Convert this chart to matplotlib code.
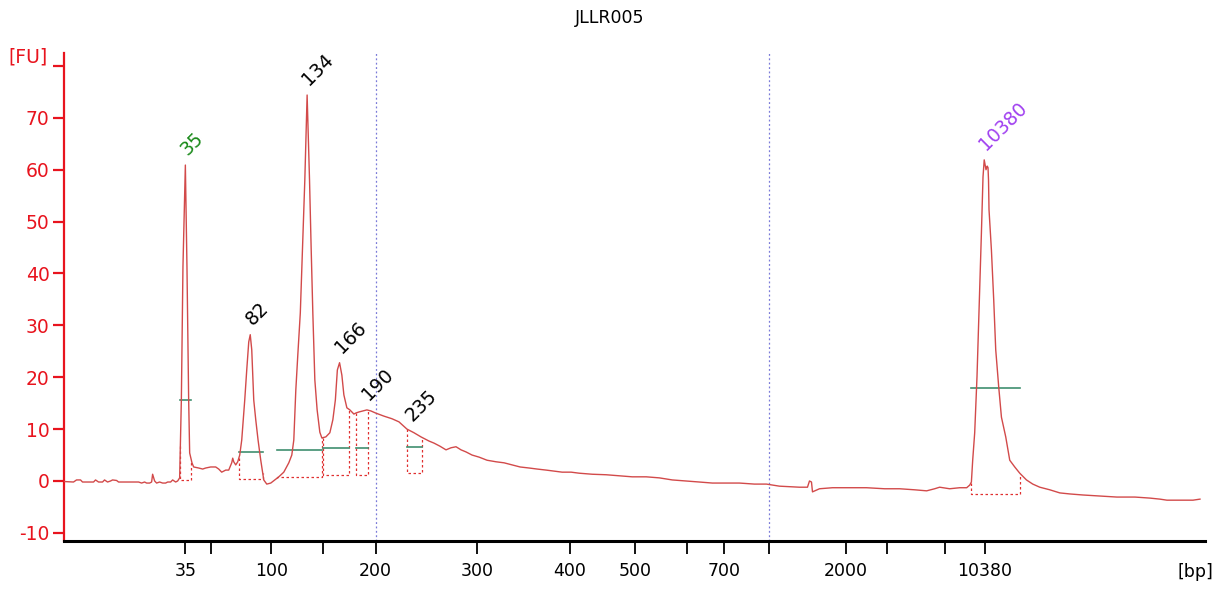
import numpy as np
import matplotlib
matplotlib.use('Agg')
import matplotlib.pyplot as plt

plt.rcParams['font.family'] = ['DejaVu Sans']

sample = "JLLR005"

# ladder: migration time (s) of each ladder fragment (bp)
ladder_bp = [35, 50, 100, 150, 200, 300, 400, 500, 600, 700, 1000, 2000, 3000, 7000, 10380]
ladder_time = [53.67, 56.2, 62.27, 67.4, 72.67, 82.8, 92.07, 98.6, 103.8, 107.5, 112.0, 119.6, 123.7, 129.5, 133.5]
labelled_bp = [35, 100, 200, 300, 400, 500, 700, 2000, 10380]
smear_bp = [200, 1000]

# electropherogram trace
time_s = [41.5, 42.5, 42.8, 43.2, 43.4, 44.5, 44.7, 45.0, 45.4, 45.6, 45.9, 46.2, 46.4, 46.8, 47.0,
          49.0, 49.3, 49.6, 49.8, 50.1, 50.3, 50.4, 50.6, 50.8, 51.1, 51.4, 51.7, 51.9, 52.2, 52.4,
          52.7, 52.9, 53.1, 53.27, 53.43, 53.67, 53.83, 54.0, 54.1, 54.33, 54.5, 55.0, 55.4, 55.7,
          56.2, 56.7, 57.0, 57.3, 57.7, 58.0, 58.3, 58.4, 58.5, 58.7, 58.9, 59.1, 59.3, 59.6, 59.8,
          60.0, 60.15, 60.3, 60.5, 60.7, 60.93, 61.2, 61.5, 61.8, 62.2, 62.6, 63.0, 63.5, 64.0,
          64.3, 64.5, 64.7, 64.9, 65.15, 65.33, 65.6, 65.83, 66.07, 66.23, 66.4, 66.6, 66.83, 67.1,
          67.3, 67.7, 68.1, 68.4, 68.65, 68.85, 69.07, 69.3, 69.5, 69.8, 70.1, 70.5, 70.7, 71.0,
          71.4, 71.8, 72.2, 72.67, 73.5, 74.3, 75.0, 75.8, 76.2, 76.5, 77.2, 78.0, 78.5, 79.1, 79.7,
          80.2, 80.7, 81.2, 81.7, 82.3, 83.0, 83.8, 84.7, 85.5, 86.3, 87.1, 88.0, 88.8, 89.7, 90.5,
          91.3, 92.2, 93.0, 94.3, 95.7, 97.0, 98.3, 99.7, 101.0, 102.3, 103.7, 105.0, 106.3, 107.6,
          109.0, 110.5, 111.7, 113.0, 115.0, 115.8, 116.0, 116.2, 116.3, 117.0, 118.3, 120.0, 121.7,
          123.5, 125.0, 126.5, 127.7, 128.5, 129.0, 130.0, 131.0, 131.7, 132.0, 132.17, 132.3, 132.5,
          132.73, 132.93, 133.17, 133.33, 133.45, 133.63, 133.75, 133.83, 133.88, 133.93, 134.17,
          134.4, 134.6, 134.9, 135.17, 135.6, 136.0, 136.5, 137.0, 137.67, 138.3, 139.0, 140.0,
          141.0, 142.0, 143.3, 145.0, 146.7, 148.5, 150.0, 151.0, 151.7, 153.0, 154.3, 155.0]
signal_fu = [-0.1, -0.2, 0.2, 0.2, -0.2, -0.2, 0.2, -0.2, -0.2, 0.2, -0.2, 0.0, 0.2, 0.1, -0.2,
             -0.2, -0.4, -0.2, -0.4, -0.4, -0.2, 1.3, 0.0, -0.4, -0.2, -0.4, -0.4, -0.2, -0.2, 0.2,
             -0.2, 0.0, 0.6, 15.6, 41.3, 60.9, 41.3, 15.6, 5.4, 3.5, 2.7, 2.5, 2.3, 2.5,
             2.7, 2.7, 2.3, 1.7, 2.1, 2.1, 3.5, 4.4, 3.7, 3.1, 3.7, 5.0, 7.9, 15.6, 21.4,
             26.8, 28.2, 25.3, 15.6, 11.8, 7.9, 4.0, 0.2, -0.6, -0.4, 0.2, 0.8, 1.7, 3.5,
             5.0, 7.9, 17.5, 24.3, 32.4, 42.6, 58.0, 74.4, 58.0, 45.1, 32.4, 19.5, 13.7, 9.4,
             8.3, 8.5, 9.3, 11.8, 15.6, 21.4, 22.8, 20.4, 16.6, 14.1, 13.7, 12.9, 13.1, 13.3,
             13.5, 13.7, 13.5, 13.1, 12.5, 12.0, 11.4, 10.0, 9.6, 9.3, 8.5, 7.7, 7.3, 6.7, 6.0,
             6.4, 6.6, 6.0, 5.6, 5.0, 4.6, 4.0, 3.7, 3.5, 3.1, 2.7, 2.5, 2.3, 2.1, 1.9,
             1.7, 1.7, 1.5, 1.3, 1.2, 1.0, 0.8, 0.8, 0.6, 0.2, 0.0, -0.2, -0.4, -0.4,
             -0.4, -0.6, -0.6, -1.0, -1.2, -1.2, 0.0, -0.2, -2.1, -1.5, -1.3, -1.3, -1.3,
             -1.5, -1.5, -1.7, -1.9, -1.5, -1.2, -1.5, -1.3, -1.3, -0.8, -0.2, 4.0, 9.3,
             20.1, 32.4, 47.8, 58.6, 61.9, 60.0, 60.7, 60.4, 58.0, 52.3, 44.5,
             34.9, 25.3, 18.1, 12.3, 8.5, 4.0, 2.7, 1.5, 0.2, -0.6, -1.2, -1.7,
             -2.3, -2.5, -2.7, -2.9, -3.1, -3.1, -3.3, -3.5, -3.7, -3.7, -3.7, -3.5]

# called peaks
peak_bp = [35, 82, 134, 166, 190, 235, 10380]
peak_time = [53.67, 60.15, 65.83, 69.07, 71.8, 76.2, 133.45]
peak_fu = [60.9, 28.2, 74.4, 22.8, 13.7, 9.6, 61.9]
peak_color = ['#1a8a1a', 'black', 'black', 'black', 'black', 'black', '#a040f0']

# peak integration windows
win_start = [53.17, 59.0, 62.8, 67.43, 70.67, 75.83, 132.1]
win_end = [54.27, 61.4, 67.27, 70.0, 71.87, 77.27, 137.07]
win_base = [0.1, 0.4, 0.8, 1.2, 1.2, 1.6, -2.5]
win_mark = [15.6, 5.6, 6.0, 6.4, 6.4, 6.6, 17.9]

red = '#e8141e'

fig = plt.figure(figsize=(12.16, 5.9), dpi=100)
ax = fig.add_axes([63.5 / 1216, 49 / 590, (1205 - 63.5) / 1216, (541 - 53) / 590])

t = np.array(time_s)
s = np.array(signal_fu)

for a, b, base, mark in zip(win_start, win_end, win_base, win_mark):
    ya = np.interp(a, t, s)
    yb = np.interp(b, t, s)
    ax.plot([a, a, b, b], [ya, base, base, yb], color='#e03030', lw=0.9,
            linestyle=(0, (2, 2)), zorder=2)
    ax.plot([a, b], [mark, mark], color='#3f8f6f', lw=1.2, zorder=3)

for bp in smear_bp:
    x = ladder_time[ladder_bp.index(bp)]
    ax.axvline(x, color='#7a7ad8', lw=0.9, linestyle=(0, (1.5, 2)), zorder=1)

ax.plot(t, s, color='#d24a4a', lw=1.0, zorder=4)

for bp, pt, pf, c in zip(peak_bp, peak_time, peak_fu, peak_color):
    ax.annotate(str(bp), xy=(pt, pf), xytext=(1.5, 6.5), textcoords='offset points',
                rotation=45, rotation_mode='anchor', ha='left', va='baseline',
                color=c, fontsize=13.5)

ax.set_xlim(41.5, 155.5)
ax.set_ylim(-11.57, 82.5)

ax.set_xticks(ladder_time)
ax.set_xticklabels([str(b) if b in labelled_bp else '' for b in ladder_bp])
ax.set_yticks([-10, 0, 10, 20, 30, 40, 50, 60, 70, 80])
ax.set_yticklabels(['-10', '0', '10', '20', '30', '40', '50', '60', '70', ''])

for side in ['top', 'right']:
    ax.spines[side].set_visible(False)
ax.spines['left'].set_color(red)
ax.spines['left'].set_linewidth(1.6)
ax.spines['bottom'].set_color('black')
ax.spines['bottom'].set_linewidth(2.2)

ax.tick_params(axis='y', colors=red, labelcolor=red, length=8, width=1.6,
               labelsize=13.5, pad=2)
ax.tick_params(axis='x', colors='black', length=9, width=1.3, labelsize=12.5, pad=6)

fig.text(28 / 1216, 1 - 57 / 590, '[FU]', color=red, fontsize=13.5, ha='center', va='center')
fig.text(1195 / 1216, 1 - 572 / 590, '[bp]', color='black', fontsize=12.5, ha='center', va='center')
fig.text(610 / 1216, 1 - 18 / 590, sample, color='black', fontsize=12.5, ha='center', va='center')

fig.savefig('out.png', dpi=100)
